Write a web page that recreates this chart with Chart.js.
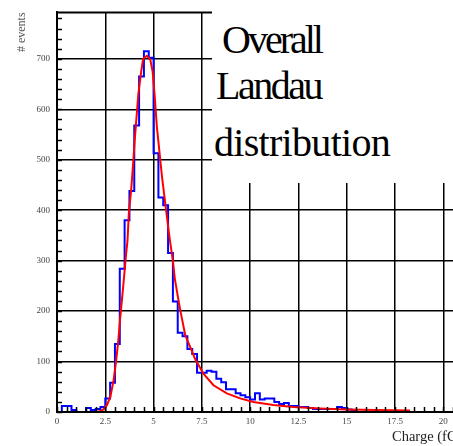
<!DOCTYPE html>
<html><head><meta charset="utf-8">
<script src="https://cdn.jsdelivr.net/npm/chart.js@4/dist/chart.umd.min.js"></script>
<style>
html,body{margin:0;padding:0;background:#fff;overflow:hidden}
#wrap{position:relative;width:453px;height:446px;overflow:hidden;background:#fff}
canvas{position:absolute;left:0;top:0}
#box{position:absolute;left:212px;top:0;width:241px;height:183px;background:#fff;font-family:"Liberation Serif","Times New Roman",serif;font-size:40px;color:#000}
#box span{position:absolute;white-space:nowrap;line-height:1}
#xtitle{position:absolute;left:392px;top:429px;font-family:"Liberation Serif","Times New Roman",serif;font-size:14.5px;color:#222;white-space:nowrap;line-height:1}
</style></head><body>
<div id="wrap">
<canvas id="c" width="453" height="446"></canvas>
<div id="box"><span style="left:10px;top:20px;letter-spacing:-3px">Overall</span><span style="left:4px;top:66px;letter-spacing:-2.5px">Landau</span><span style="left:2px;top:123px;letter-spacing:-0.7px">distribution</span></div>
<div id="xtitle">Charge (fC)</div>
</div>
<script>
// ---- data ----
const binWidth = 0.25; // fC
const eventCounts = [
  0, 12, 12, 4, 0, 0, 8, 4, 6, 10,
  27, 58, 135, 284, 380, 438, 568, 665, 715, 702,
  513, 425, 410, 315, 219, 157, 150, 125, 115, 78,
  78, 82, 80, 66, 59, 45, 45, 37, 33, 29,
  25, 37, 25, 27, 27, 20, 16, 18, 12, 12,
  10, 10, 8, 6, 6, 6, 6, 6, 10, 8,
  5, 4, 0, 0, 0, 0, 0, 0, 0, 0,
  0, 0, 0, 0, 0, 0, 0, 0, 0, 0
];
const fitCharge = [2.08,2.25,2.41,2.59,2.76,2.93,3.05,3.17,3.27,3.43,3.57,3.65,3.72,3.84,3.96,4.01,4.21,4.36,4.46,4.65,4.83,4.95,5.05,5.17,5.26,5.43,5.6,5.77,5.86,6.0,6.1,6.21,6.38,6.64,6.98,7.15,7.58,8.1,8.79,9.48,10.17,11.2,12.24,13.62,15.0,16.5,18.28];
const fitValue  = [0,2,5,14,30,63,98,140,186,250,310,340,395,440,503,532,630,675,700,706,698,675,630,565,532,468,415,362,336,300,264,239,202,152,121,105,76,53,37,27,20,14,10,7,5,4,3];
const xTickValues = [0, 2.5, 5, 7.5, 10, 12.5, 15, 17.5, 20];
const xTickLabels = ['0','2.5','5','7.5','10','12.5','15','17.5','20'];
const yTickValues = [0, 100, 200, 300, 400, 500, 600, 700];
const xMinorStep = 0.5, yMinorStep = 20;
const xMax = 20.5, yMax = 792;

// histogram outline: each bin's count holds from its lower edge to the next edge
const histPoints = eventCounts.map((v, i) => ({x: i * binWidth, y: v}));
histPoints.push({x: eventCounts.length * binWidth, y: eventCounts[eventCounts.length - 1]});
const fitPoints = fitCharge.map((c, i) => ({x: c, y: fitValue[i]}));

const framePlugin = {
  id: 'frame',
  afterDatasetsDraw(chart) {
    const ctx = chart.ctx, a = chart.chartArea;
    const xs = chart.scales.x, ys = chart.scales.y;
    ctx.save();
    ctx.strokeStyle = '#000';
    ctx.lineWidth = 1.5;
    ctx.beginPath();
    for (let v = 0; v <= xMax + 1e-6; v += xMinorStep) {
      const px = Math.round(xs.getPixelForValue(v)) + 0.5;
      ctx.moveTo(px, a.bottom); ctx.lineTo(px, a.bottom - 5);
    }
    for (let v = 0; v <= yMax + 1e-6; v += yMinorStep) {
      const py = Math.round(ys.getPixelForValue(v)) + 0.5;
      ctx.moveTo(a.left, py); ctx.lineTo(a.left + 5, py);
    }
    ctx.stroke();
    ctx.lineWidth = 2;
    ctx.beginPath();
    ctx.moveTo(a.left, a.top); ctx.lineTo(a.right, a.top);
    ctx.moveTo(a.left, a.top); ctx.lineTo(a.left, a.bottom);
    ctx.moveTo(a.left, a.bottom); ctx.lineTo(a.right, a.bottom);
    ctx.stroke();
    ctx.restore();
  }
};

const tickFont = {family: '"Liberation Serif", serif', size: 9};

new Chart(document.getElementById('c'), {
  type: 'line',
  data: {
    datasets: [
      {label: 'Landau fit', data: fitPoints, borderColor: '#ff0000', borderWidth: 2, pointRadius: 0, tension: 0, order: 0},
      {label: 'events', data: histPoints, borderColor: '#0000ff', borderWidth: 2, pointRadius: 0, stepped: 'before', order: 1}
    ]
  },
  plugins: [framePlugin],
  options: {
    responsive: false,
    animation: false,
    devicePixelRatio: 1,
    layout: {padding: {top: 7, right: 0, left: 0, bottom: 0}},
    plugins: {legend: {display: false}, tooltip: {enabled: false}},
    scales: {
      x: {
        type: 'linear', min: 0, max: xMax,
        afterFit: s => { s.height = 34; },
        afterBuildTicks: s => { s.ticks = xTickValues.map(v => ({value: v})); },
        grid: {color: '#000', lineWidth: 1.5, drawTicks: false},
        border: {display: true, color: '#000', width: 2},
        ticks: {
          autoSkip: false, maxRotation: 0, padding: 4, color: '#444', font: tickFont,
          callback: (v) => { const i = xTickValues.indexOf(v); return i >= 0 ? xTickLabels[i] : ''; }
        }
      },
      y: {
        min: 0, max: yMax,
        afterFit: s => { s.width = 57; },
        afterBuildTicks: s => { s.ticks = yTickValues.map(v => ({value: v})); },
        grid: {color: '#000', lineWidth: 1.5, drawTicks: false},
        border: {display: true, color: '#000', width: 2},
        ticks: {autoSkip: false, padding: 7, color: '#444', font: tickFont},
        title: {
          display: true, text: '# events', align: 'end', color: '#555',
          font: {family: '"Liberation Serif", serif', size: 12},
          padding: {top: 15, bottom: 0}
        }
      }
    }
  }
});
</script>
</body></html>
